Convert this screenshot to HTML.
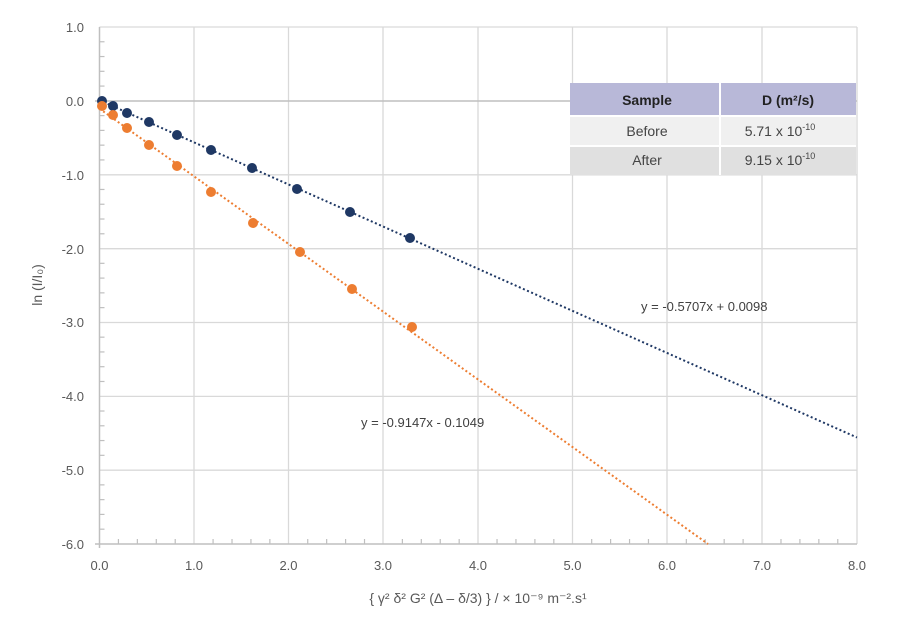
<!DOCTYPE html><html><head><style>body{margin:0;background:#fff;width:898px;height:621px;overflow:hidden;font-family:"Liberation Sans",sans-serif}</style></head><body>
<svg width="898" height="621" xmlns="http://www.w3.org/2000/svg" font-family="Liberation Sans, DejaVu Sans, sans-serif">
<g stroke="#d9d9d9" stroke-width="1.3">
<line x1="194" y1="27" x2="194" y2="544"/><line x1="288.5" y1="27" x2="288.5" y2="544"/><line x1="383" y1="27" x2="383" y2="544"/><line x1="478" y1="27" x2="478" y2="544"/><line x1="572.5" y1="27" x2="572.5" y2="544"/><line x1="667" y1="27" x2="667" y2="544"/><line x1="762" y1="27" x2="762" y2="544"/><line x1="857" y1="27" x2="857" y2="544"/>
<line x1="99.5" y1="27" x2="857" y2="27"/><line x1="99.5" y1="174.8" x2="857" y2="174.8"/><line x1="99.5" y1="248.7" x2="857" y2="248.7"/><line x1="99.5" y1="322.5" x2="857" y2="322.5"/><line x1="99.5" y1="396.4" x2="857" y2="396.4"/><line x1="99.5" y1="470.2" x2="857" y2="470.2"/>
</g>
<g stroke="#bfbfbf" stroke-width="1.5"><line x1="99.5" y1="27" x2="99.5" y2="548"/><line x1="95" y1="544" x2="857" y2="544"/><line x1="95" y1="101" x2="857" y2="101"/></g>
<g id="t" stroke="#bfbfbf" stroke-width="1.2"></g>
<g font-size="13" fill="#595959" text-anchor="end">
<text x="84" y="32">1.0</text><text x="84" y="106">0.0</text><text x="84" y="180">-1.0</text><text x="84" y="254">-2.0</text><text x="84" y="327">-3.0</text><text x="84" y="401">-4.0</text><text x="84" y="475">-5.0</text><text x="84" y="549">-6.0</text></g>
<g font-size="13" fill="#595959" text-anchor="middle">
<text x="99.5" y="570">0.0</text><text x="194" y="570">1.0</text><text x="288.5" y="570">2.0</text><text x="383" y="570">3.0</text><text x="478" y="570">4.0</text><text x="572.5" y="570">5.0</text><text x="667" y="570">6.0</text><text x="762" y="570">7.0</text><text x="857" y="570">8.0</text></g>
<text x="478" y="603" font-size="14" fill="#595959" text-anchor="middle">{ γ² δ² G² (Δ – δ/3) } / × 10⁻⁹ m⁻².s¹</text>
<text transform="translate(42,285) rotate(-90)" font-size="14" fill="#595959" text-anchor="middle">ln (I/I₀)</text>
<line x1="99.5" y1="100.3" x2="857" y2="437.5" stroke="#1f3864" stroke-width="2" stroke-dasharray="2,2.5"/>
<line x1="99.5" y1="108.7" x2="708" y2="544" stroke="#ed7d31" stroke-width="2" stroke-dasharray="2,2.5"/>
<g fill="#1f3864"><circle cx="102" cy="101" r="5"/><circle cx="113" cy="106" r="5"/><circle cx="127" cy="113" r="5"/><circle cx="149" cy="122" r="5"/><circle cx="177" cy="135" r="5"/><circle cx="211" cy="150" r="5"/><circle cx="252" cy="168" r="5"/><circle cx="297" cy="189" r="5"/><circle cx="350" cy="212" r="5"/><circle cx="410" cy="238" r="5"/></g>
<g fill="#ed7d31"><circle cx="102" cy="106" r="5"/><circle cx="113" cy="115" r="5"/><circle cx="127" cy="128" r="5"/><circle cx="149" cy="145" r="5"/><circle cx="177" cy="166" r="5"/><circle cx="211" cy="192" r="5"/><circle cx="253" cy="223" r="5"/><circle cx="300" cy="252" r="5"/><circle cx="352" cy="289" r="5"/><circle cx="412" cy="327" r="5"/></g>
<text x="641" y="311" font-size="13" fill="#404040">y = -0.5707x + 0.0098</text>
<text x="361" y="427" font-size="13" fill="#404040">y = -0.9147x - 0.1049</text>
<rect x="570" y="83" width="286" height="33" fill="#b8b8d8"/><rect x="570" y="116" width="286" height="30" fill="#f0f0f0"/><rect x="570" y="146" width="286" height="29" fill="#e0e0e0"/>
<g stroke="#fff" stroke-width="2"><line x1="720" y1="83" x2="720" y2="175"/><line x1="570" y1="116" x2="856" y2="116"/><line x1="570" y1="146" x2="856" y2="146"/></g>
<g font-size="14" fill="#222" text-anchor="middle"><text x="647" y="105" font-weight="bold">Sample</text><text x="788" y="105" font-weight="bold">D (m²/s)</text>
<text x="647" y="136" fill="#444">Before</text><text x="647" y="165" fill="#444">After</text>
<text x="780" y="136" fill="#444">5.71 x 10<tspan font-size="9" dy="-6">-10</tspan></text>
<text x="780" y="165" fill="#444">9.15 x 10<tspan font-size="9" dy="-6">-10</tspan></text></g>
</svg>
<script>
var g=document.getElementById('t'),s='';
for(var i=1;i<40;i++){if(i%5)s+='<line x1="'+(99.5+i*18.93)+'" y1="544" x2="'+(99.5+i*18.93)+'" y2="539"/>';}
for(var j=1;j<35;j++){if(j%5){var y=27+j*14.77;s+='<line x1="99.5" y1="'+y+'" x2="104.5" y2="'+y+'"/>';}}
g.innerHTML=s;
</script>
</body></html>
